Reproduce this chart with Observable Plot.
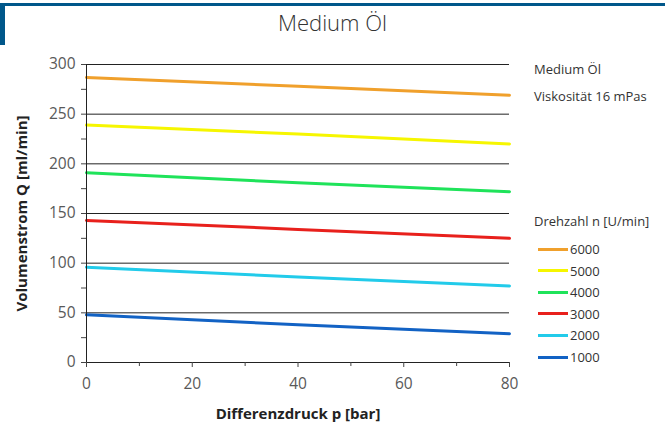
<!DOCTYPE html>
<html><head><meta charset="utf-8">
<script src="https://cdn.jsdelivr.net/npm/d3@7"></script>
<script src="https://cdn.jsdelivr.net/npm/@observablehq/plot@0.6"></script>
<style>
body{margin:0;background:#fff;font-family:"Open Sans",sans-serif;}
#wrap{position:relative;width:665px;height:427px;overflow:hidden;}
#topbar{position:absolute;left:0;top:3px;width:665px;height:3px;background:#00578a;}
#leftbar{position:absolute;left:0;top:3px;width:5px;height:42px;background:#00578a;}
#title{position:absolute;left:0;top:7px;width:665px;text-align:center;font-size:22px;font-weight:300;color:#333;}
#chart{position:absolute;left:0;top:42px;}
#legend{position:absolute;left:534px;top:60px;font-size:13px;color:#333;}
.info{position:absolute;white-space:nowrap;}
.item{position:absolute;left:4px;white-space:nowrap;height:20px;display:flex;align-items:center;font-size:13px;}
.item span.sw{display:inline-block;width:30px;height:3px;margin-right:2px;}
</style></head>
<body><div id="wrap">
<div id="topbar"></div><div id="leftbar"></div>
<div id="title">Medium Öl</div>
<div id="chart"></div>
<div id="legend"></div>
</div>
<script>
const pressure = [0, 40, 80];
const speeds = [6000, 5000, 4000, 3000, 2000, 1000];
const flow6000 = [287, 278, 269];
const flow5000 = [239, 230, 220];
const flow4000 = [191, 181, 172];
const flow3000 = [143, 134, 125];
const flow2000 = [96, 86, 77];
const flow1000 = [48, 38, 29];
const colors = ["#f0a02c", "#f6f600", "#1fe35a", "#e8201c", "#22cbea", "#1262c4"];
const yTicks = [0, 50, 100, 150, 200, 250, 300];
const yMinor = [25, 75, 125, 175, 225, 275];
const xTicks = [0, 20, 40, 60, 80];
const xMinor = [10, 30, 50, 70];
const infoLines = ["Medium Öl", "Viskosität 16 mPas"];
const legendTitle = "Drehzahl n [U/min]";

const series = [flow6000, flow5000, flow4000, flow3000, flow2000, flow1000];
const data = [];
speeds.forEach((s, i) => pressure.forEach((p, j) => data.push({speed: s, p, q: series[i][j]})));

const chart = Plot.plot({
  width: 665, height: 385,
  marginLeft: 86, marginRight: 156, marginTop: 22, marginBottom: 65,
  style: {fontFamily: "Open Sans, sans-serif", fontSize: "15.5px", color: "#595959", background: "transparent"},
  x: {domain: [0, 80], label: null},
  y: {domain: [0, 300], label: null},
  marks: [
    Plot.ruleY(yTicks.filter(d => d > 0), {stroke: "#222", strokeWidth: 1}),
    Plot.line(data, {x: "p", y: "q", z: "speed", stroke: d => colors[speeds.indexOf(d.speed)], strokeWidth: 3}),
    Plot.ruleX([0], {stroke: "#222"}),
    Plot.ruleY([0], {stroke: "#222"}),
    Plot.axisY({ticks: yTicks, tickSize: 5, tickPadding: 6, stroke: "#444", label: null}),
    Plot.axisY({ticks: yMinor, tickSize: 5, tickFormat: () => "", stroke: "#444", label: null}),
    Plot.axisX({ticks: xTicks, tickSize: 5, tickPadding: 10, stroke: "#444", label: null}),
    Plot.axisX({ticks: xMinor, tickSize: 4, tickFormat: () => "", stroke: "#444", label: null}),
    Plot.text(["Differenzdruck p [bar]"], {frameAnchor: "bottom", dy: 52, lineAnchor: "middle", textAnchor: "middle", fontWeight: "bold", fontSize: 15, fill: "#222"}),
    Plot.text(["Volumenstrom Q [ml/min]"], {frameAnchor: "left", dx: -64, rotate: -90, textAnchor: "middle", lineAnchor: "middle", fontWeight: "bold", fontSize: 15, fill: "#222"})
  ]
});
document.getElementById("chart").appendChild(chart);

const leg = document.getElementById("legend");
infoLines.forEach((t, i) => {
  const d = document.createElement("div");
  d.className = "info"; d.style.top = (i * 27) + "px"; d.textContent = t; leg.appendChild(d);
});
const lt = document.createElement("div");
lt.className = "info"; lt.style.top = "152px"; lt.textContent = legendTitle; leg.appendChild(lt);
speeds.forEach((s, i) => {
  const d = document.createElement("div");
  d.className = "item"; d.style.top = (179 + i * 21.6) + "px";
  d.innerHTML = `<span class="sw" style="background:${colors[i]}"></span>${s}`;
  leg.appendChild(d);
});
</script>
</body></html>
